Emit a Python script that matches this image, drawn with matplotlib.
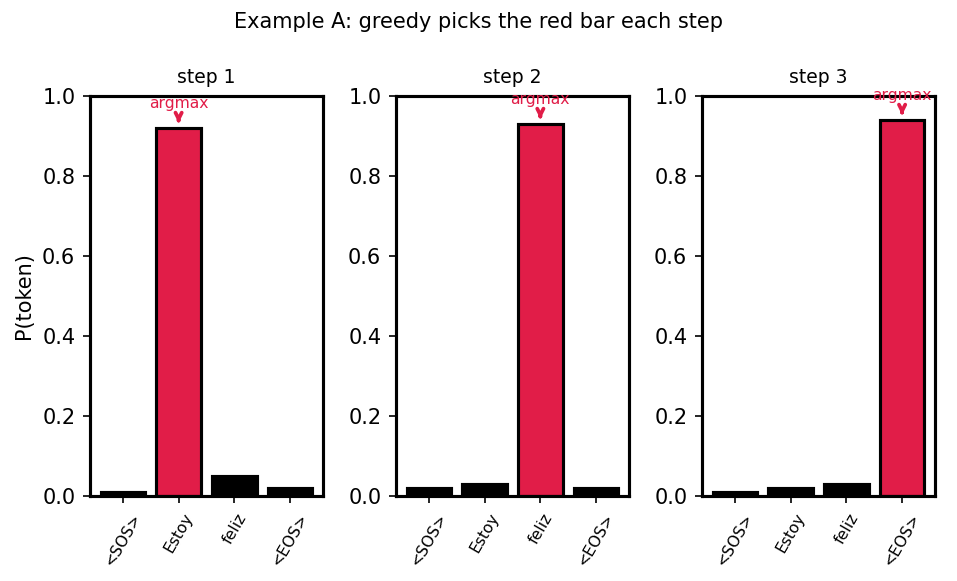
import numpy as np
import matplotlib.pyplot as plt

tokens = ['<SOS>', 'Estoy', 'feliz', '<EOS>']
step1 = [0.01, 0.92, 0.05, 0.02]
step2 = [0.02, 0.03, 0.93, 0.02]
step3 = [0.01, 0.02, 0.03, 0.94]
steps = [step1, step2, step3]
titles = ['step 1', 'step 2', 'step 3']
red = '#e11d48'

fig, axes = plt.subplots(1, 3, figsize=(9.57 / 1.5, 5.81 / 1.5), dpi=150)
x = np.arange(len(tokens))
for ax, probs, title in zip(axes, steps, titles):
    best = int(np.argmax(probs))
    colors = [red if i == best else 'black' for i in range(len(tokens))]
    ax.bar(x, probs, color=colors, edgecolor='black', linewidth=1.5)
    ax.set_ylim(0, 1)
    ax.set_xticks(x)
    ax.set_xticklabels(tokens, rotation=60, fontsize=7.5)
    ax.set_title(title, fontsize=9)
    for s in ax.spines.values():
        s.set_linewidth(1.5)
    ax.annotate('argmax', xy=(best, probs[best] + 0.012), xytext=(best, probs[best] + 0.06),
                ha='center', va='center', fontsize=7.5, color=red,
                arrowprops=dict(arrowstyle='->', color=red, lw=1.8))
axes[0].set_ylabel('P(token)')
fig.suptitle('Example A: greedy picks the red bar each step', fontsize=10)
fig.subplots_adjust(left=0.094, right=0.977, top=0.835, bottom=0.146, wspace=0.313)
fig.savefig('out.png')
